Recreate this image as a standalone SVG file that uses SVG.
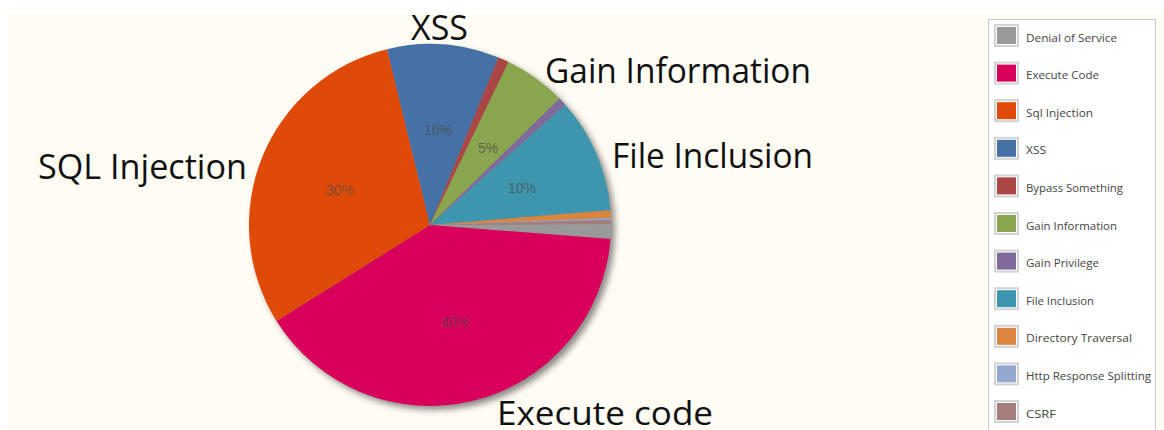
<svg xmlns="http://www.w3.org/2000/svg" width="1164" height="430" viewBox="0 0 1164 430">
<defs>
<filter id="blur" x="-20%" y="-20%" width="140%" height="140%"><feGaussianBlur stdDeviation="3"/></filter>
<style>
.big{font-family:"Open Sans","Noto Sans",sans-serif;font-size:34px;fill:#111;}
.pct{font-family:"Liberation Sans",Arial,sans-serif;font-size:14px;fill:#4a4a4a;fill-opacity:0.7;text-anchor:middle;}
.leg{font-family:"Open Sans","Liberation Sans",sans-serif;font-size:11px;fill:#444;}
.sw{fill:#fff;stroke:#d2d2d2;stroke-width:2;}
</style>
</defs>
<rect x="0" y="0" width="1164" height="430" fill="#ffffff"/>
<rect x="8" y="14" width="1156" height="416" fill="#fffcf3"/>

<g id="pie">
<circle cx="434" cy="229" r="181" fill="#000" fill-opacity="0.45" filter="url(#blur)"/>
<g id="slice-dos"><path d="M430,225 L611.0,224.05 A181,181 0 0 1 610.47,238.89 Z" fill="#999999"/></g>
<g id="slice-execute"><path d="M430,225 L610.47,238.89 A181,181 0 0 1 276.50,320.92 Z" fill="#d9005b"/></g>
<g id="slice-sql"><path d="M430,225 L276.50,320.92 A181,181 0 0 1 387.13,49.15 Z" fill="#e04a08"/></g>
<g id="slice-xss"><path d="M430,225 L387.13,49.15 A181,181 0 0 1 498.39,57.42 Z" fill="#4571a6"/></g>
<g id="slice-bypass"><path d="M430,225 L498.39,57.42 A181,181 0 0 1 508.49,61.90 Z" fill="#aa4643"/></g>
<g id="slice-gaininfo"><path d="M430,225 L508.49,61.90 A181,181 0 0 1 559.54,98.59 Z" fill="#89a54e"/></g>
<g id="slice-gainpriv"><path d="M430,225 L559.54,98.59 A181,181 0 0 1 565.35,104.83 Z" fill="#80699b"/></g>
<g id="slice-fileinc"><path d="M430,225 L565.35,104.83 A181,181 0 0 1 610.39,210.17 Z" fill="#3d96ae"/></g>
<g id="slice-dirtrav"><path d="M430,225 L610.39,210.17 A181,181 0 0 1 610.87,218.05 Z" fill="#db843d"/></g>
<g id="slice-http"><path d="M430,225 L610.87,218.05 A181,181 0 0 1 610.93,219.95 Z" fill="#92a8cd"/></g>
<g id="slice-csrf"><path d="M430,225 L610.93,219.95 A181,181 0 0 1 611.0,224.05 Z" fill="#a47d7c"/></g>
</g>

<g id="pct-labels">
<text class="pct" x="340" y="195">30%</text>
<text class="pct" x="438" y="135">10%</text>
<text class="pct" x="488" y="153">5%</text>
<text class="pct" x="522" y="193">10%</text>
<text class="pct" x="455" y="327">40%</text>
</g>

<g id="labels">
<text class="big" x="411" y="40" textLength="57" lengthAdjust="spacingAndGlyphs">XSS</text>
<text class="big" x="545" y="83" textLength="266" lengthAdjust="spacingAndGlyphs">Gain Information</text>
<text class="big" x="612" y="168" textLength="201" lengthAdjust="spacingAndGlyphs">File Inclusion</text>
<text class="big" x="38" y="179" textLength="209" lengthAdjust="spacingAndGlyphs">SQL Injection</text>
<text class="big" x="497" y="425" style="font-size:32px" textLength="216" lengthAdjust="spacingAndGlyphs">Execute code</text>
</g>

<g id="legend">
<rect x="988.5" y="19.5" width="167" height="420" fill="#ffffff" stroke="#cccccc" stroke-width="1"/>
<g id="leg-dos"><rect class="sw" x="995" y="25" width="23" height="21"/><rect x="997" y="27" width="19" height="17" fill="#999999"/><text class="leg" x="1026" y="41.5" textLength="91" lengthAdjust="spacingAndGlyphs">Denial of Service</text></g>
<g id="leg-execute"><rect class="sw" x="995" y="62.6" width="23" height="21"/><rect x="997" y="64.6" width="19" height="17" fill="#d9005b"/><text class="leg" x="1026" y="79.1" textLength="73" lengthAdjust="spacingAndGlyphs">Execute Code</text></g>
<g id="leg-sql"><rect class="sw" x="995" y="100.2" width="23" height="21"/><rect x="997" y="102.2" width="19" height="17" fill="#e04a08"/><text class="leg" x="1026" y="116.7" textLength="67" lengthAdjust="spacingAndGlyphs">Sql Injection</text></g>
<g id="leg-xss"><rect class="sw" x="995" y="137.8" width="23" height="21"/><rect x="997" y="139.8" width="19" height="17" fill="#4571a6"/><text class="leg" x="1026" y="154.3" textLength="20" lengthAdjust="spacingAndGlyphs">XSS</text></g>
<g id="leg-bypass"><rect class="sw" x="995" y="175.4" width="23" height="21"/><rect x="997" y="177.4" width="19" height="17" fill="#aa4643"/><text class="leg" x="1026" y="191.9" textLength="97" lengthAdjust="spacingAndGlyphs">Bypass Something</text></g>
<g id="leg-gaininfo"><rect class="sw" x="995" y="213" width="23" height="21"/><rect x="997" y="215" width="19" height="17" fill="#89a54e"/><text class="leg" x="1026" y="229.5" textLength="91" lengthAdjust="spacingAndGlyphs">Gain Information</text></g>
<g id="leg-gainpriv"><rect class="sw" x="995" y="250.6" width="23" height="21"/><rect x="997" y="252.6" width="19" height="17" fill="#80699b"/><text class="leg" x="1026" y="267.1" textLength="73" lengthAdjust="spacingAndGlyphs">Gain Privilege</text></g>
<g id="leg-fileinc"><rect class="sw" x="995" y="288.2" width="23" height="21"/><rect x="997" y="290.2" width="19" height="17" fill="#3d96ae"/><text class="leg" x="1026" y="304.7" textLength="68" lengthAdjust="spacingAndGlyphs">File Inclusion</text></g>
<g id="leg-dirtrav"><rect class="sw" x="995" y="325.8" width="23" height="21"/><rect x="997" y="327.8" width="19" height="17" fill="#db843d"/><text class="leg" x="1026" y="342.3" textLength="106" lengthAdjust="spacingAndGlyphs">Directory Traversal</text></g>
<g id="leg-http"><rect class="sw" x="995" y="363.4" width="23" height="21"/><rect x="997" y="365.4" width="19" height="17" fill="#92a8cd"/><text class="leg" x="1026" y="379.9" textLength="125" lengthAdjust="spacingAndGlyphs">Http Response Splitting</text></g>
<g id="leg-csrf"><rect class="sw" x="995" y="401" width="23" height="21"/><rect x="997" y="403" width="19" height="17" fill="#a47d7c"/><text class="leg" x="1026" y="417.5" textLength="30" lengthAdjust="spacingAndGlyphs">CSRF</text></g>
</g>
</svg>
